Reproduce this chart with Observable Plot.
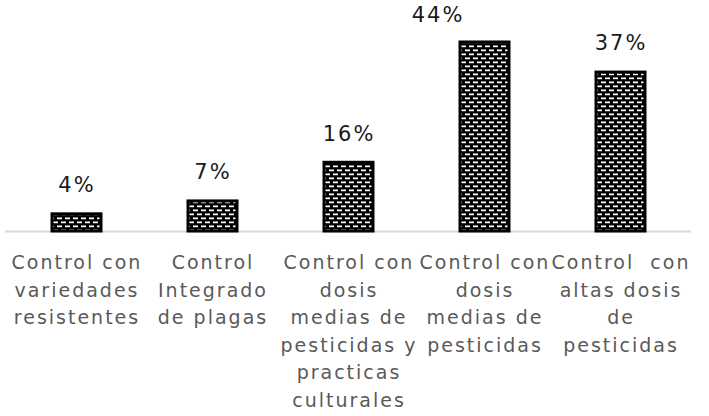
<!DOCTYPE html>
<html>
<head>
<meta charset="utf-8">
<script src="https://cdn.jsdelivr.net/npm/d3@7"></script>
<script src="https://cdn.jsdelivr.net/npm/@observablehq/plot@0.6"></script>
<style>
  html, body { margin: 0; padding: 0; background: #fff; }
  #chart svg text { letter-spacing: 2px; }
</style>
</head>
<body>
<div id="chart"></div>
<script>
// Share of respondents by pest-control strategy (%)
const categories = [
  "Control con\nvariedades\nresistentes",
  "Control\nIntegrado\nde plagas",
  "Control con\ndosis\nmedias de\npesticidas y\npracticas\nculturales",
  "Control con\ndosis\nmedias de\npesticidas",
  "Control  con\naltas dosis\nde\npesticidas"
];
const percents = [4, 7, 16, 44, 37];

const data = categories.map((c, i) => ({ category: c, value: percents[i] }));
const maxValue = d3.max(percents);

const labelStyle = {
  x: "category",
  y: "value",
  text: d => `${d.value}%`,
  fontSize: 21,
  fill: "#1a1a1a",
  lineAnchor: "middle"
};

const chart = Plot.plot({
  width: 709,
  height: 416,
  marginLeft: 5,
  marginRight: 18,
  marginTop: 0,
  marginBottom: 185,
  style: { fontFamily: "DejaVu Sans, sans-serif", background: "#fff", overflow: "visible" },
  x: { domain: categories, range: [6, 690], paddingInner: 0.64, paddingOuter: 0.32, axis: null },
  y: { domain: [0, 44], range: [231, 42], axis: null },
  marks: [
    Plot.ruleY([0], { stroke: "#d9d9d9", strokeWidth: 2 }),
    Plot.barY(data, {
      x: "category",
      y: "value",
      fill: "url(#dashes)",
      stroke: "#000",
      strokeWidth: 3
    }),
    // value labels above the bars; the tallest one is nudged left to stay in view
    Plot.text(data.filter(d => d.value !== maxValue), { ...labelStyle, dy: -29 }),
    Plot.text(data.filter(d => d.value === maxValue), { ...labelStyle, dy: -27, dx: -47 }),
    Plot.axisX({
      label: null,
      tickSize: 0,
      tickPadding: 18,
      fontSize: 19,
      lineHeight: 1.45,
      fill: "#595959",
      color: "#595959"
    })
  ]
});

// Dashed-horizontal fill used by the bars
const defs = d3.select(chart).insert("defs", ":first-child");
const pat = defs.append("pattern")
  .attr("id", "dashes")
  .attr("patternUnits", "userSpaceOnUse")
  .attr("width", 8)
  .attr("height", 8);
pat.append("rect").attr("width", 8).attr("height", 8).attr("fill", "#000");
pat.append("rect").attr("x", 1).attr("y", 1.5).attr("width", 5).attr("height", 1.7).attr("fill", "#fff");
pat.append("rect").attr("x", 5).attr("y", 5.5).attr("width", 5).attr("height", 1.7).attr("fill", "#fff");
pat.append("rect").attr("x", -3).attr("y", 5.5).attr("width", 5).attr("height", 1.7).attr("fill", "#fff");

document.getElementById("chart").appendChild(chart);
</script>
</body>
</html>
